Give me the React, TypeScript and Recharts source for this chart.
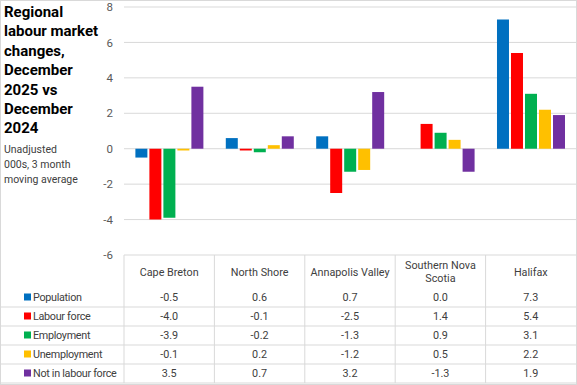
import React from 'react';
import { BarChart, Bar, XAxis, YAxis, CartesianGrid } from 'recharts';

const categories = ['Cape Breton', 'North Shore', 'Annapolis Valley', 'Southern Nova Scotia', 'Halifax'];
const categoryLabelLines = [['Cape Breton'], ['North Shore'], ['Annapolis Valley'], ['Southern Nova', 'Scotia'], ['Halifax']];
const population = [-0.5, 0.6, 0.7, 0.0, 7.3];
const labourForce = [-4.0, -0.1, -2.5, 1.4, 5.4];
const employment = [-3.9, -0.2, -1.3, 0.9, 3.1];
const unemployment = [-0.1, 0.2, -1.2, 0.5, 2.2];
const notInLabourForce = [3.5, 0.7, 3.2, -1.3, 1.9];
const yTicks = [-6, -4, -2, 0, 2, 4, 6, 8];

const seriesKeys = ['population', 'labourForce', 'employment', 'unemployment', 'notInLabourForce'];
const seriesNames = ['Population', 'Labour force', 'Employment', 'Unemployment', 'Not in labour force'];
const seriesColors = ['#0070C0', '#FF0000', '#00B050', '#FFC000', '#7030A0'];
const seriesValues = [population, labourForce, employment, unemployment, notInLabourForce];

const data = categories.map((c, i) => ({
  category: c,
  population: population[i],
  labourForce: labourForce[i],
  employment: employment[i],
  unemployment: unemployment[i],
  notInLabourForce: notInLabourForce[i],
}));

const FONT = 'Roboto, "Noto Sans", sans-serif';
const GRID = '#d9d9d9';
const TEXT = '#404040';
const TABLE_FS = 10.8;

const rowCenters = [42, 61, 80, 99, 118];
const rowLines = [52, 71, 90, 109, 128];

const TableTick = (props: any) => {
  const { x, y, payload, index, visibleTicksCount, width } = props;
  const count = visibleTicksCount || 5;
  const axisW = typeof width === 'number' && width > 0 ? width : 452;
  const band = axisW / count;
  const i = typeof index === 'number' ? index : payload.index;
  const lines = categoryLabelLines[i] || [String(payload.value)];
  const headerYs = lines.length === 1 ? [17] : [10, 23];
  return (
    <g>
      <line x1={x - band / 2} x2={x - band / 2} y1={y} y2={y + 128} stroke={GRID} strokeWidth={1} />
      {i === 0 && (
        <g>
          {rowLines.map((ly, k) => (
            <line key={'l' + k} x1={1} x2={576} y1={y + ly} y2={y + ly} stroke={GRID} strokeWidth={1} />
          ))}
          {seriesNames.map((n, k) => (
            <g key={'n' + k}>
              <rect x={24} y={y + rowCenters[k] - 3.5} width={7} height={7} fill={seriesColors[k]} />
              <text x={33} y={y + rowCenters[k]} dy="0.35em" fontSize={TABLE_FS} letterSpacing={-0.3} fill={TEXT} fontFamily={FONT}>
                {n}
              </text>
            </g>
          ))}
        </g>
      )}
      {lines.map((t, k) => (
        <text key={'h' + k} x={x} y={y + headerYs[k]} dy="0.35em" textAnchor="middle" fontSize={TABLE_FS} fill={TEXT} fontFamily={FONT}>
          {t}
        </text>
      ))}
      {seriesValues.map((vals, k) => (
        <text key={'v' + k} x={x} y={y + rowCenters[k]} dy="0.35em" textAnchor="middle" fontSize={TABLE_FS} fill={TEXT} fontFamily={FONT}>
          {vals[i].toFixed(1)}
        </text>
      ))}
    </g>
  );
};

export default function App() {
  return (
    <div style={{ position: 'absolute', left: 0, top: 0, width: 577, height: 385, background: '#fff' }}>
      <BarChart
        width={577}
        height={385}
        data={data}
        margin={{ top: 7, right: 1, left: 0, bottom: 0 }}
        barCategoryGap="12.6%"
        barGap={2}
      >
        <CartesianGrid vertical={false} stroke={GRID} strokeWidth={1} />
        <YAxis
          domain={[-6, 8]}
          ticks={yTicks}
          width={124}
          axisLine={false}
          tickLine={false}
          tickSize={0}
          tickMargin={11}
          tick={{ fontSize: 11.5, fill: '#595959', fontFamily: FONT }}
          interval={0}
        />
        <XAxis
          dataKey="category"
          height={130}
          axisLine={false}
          tickLine={false}
          tickSize={0}
          tickMargin={0}
          interval={0}
          tick={<TableTick />}
        />
        {seriesKeys.map((k, i) => (
          <Bar key={k} dataKey={k} name={seriesNames[i]} fill={seriesColors[i]} isAnimationActive={false} />
        ))}
      </BarChart>
      <div
        style={{
          position: 'absolute', left: 4, top: 3, fontFamily: FONT, fontWeight: 700,
          fontSize: 15, lineHeight: '19.4px', color: '#000',
        }}
      >
        Regional<br />labour market<br />changes,<br />December<br />2025 vs<br />December<br />2024
      </div>
      <div
        style={{
          position: 'absolute', left: 4, top: 141.5, fontFamily: FONT,
          fontSize: 10.5, lineHeight: '15px', color: TEXT,
        }}
      >
        Unadjusted<br />000s, 3 month<br />moving average
      </div>
      <div
        style={{
          position: 'absolute', left: 0, top: 0, width: 577, height: 385, boxSizing: 'border-box',
          border: '1px solid ' + GRID, pointerEvents: 'none',
        }}
      />
    </div>
  );
}
